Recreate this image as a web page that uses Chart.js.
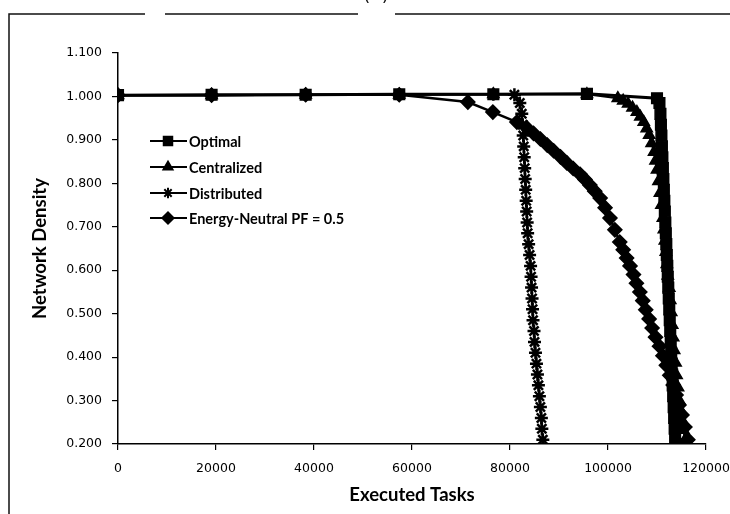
<!DOCTYPE html>
<html>
<head>
<meta charset="utf-8">
<script src="https://cdn.jsdelivr.net/npm/chart.js@4.4.1/dist/chart.umd.min.js"></script>
<style>
  html, body { margin: 0; padding: 0; background: #fff; }
  #wrap { position: relative; width: 730px; height: 514px; }
</style>
</head>
<body>
<div id="wrap"><canvas id="chart" width="730" height="514"></canvas></div>
<script>
const seriesNames = ['Optimal', 'Centralized', 'Distributed', 'Energy-Neutral PF = 0.5'];
const xTicks = [0, 20000, 40000, 60000, 80000, 100000, 120000];
const yTicks = [0.2, 0.3, 0.4, 0.5, 0.6, 0.7, 0.8, 0.9, 1.0, 1.1];

const optimalTasks = [0, 19100, 38300, 57400, 76600, 95700, 110000, 110500,
  110700, 110800, 110900, 111000, 111100, 111200, 111300, 111400, 111500, 111600,
  111700, 111800, 111900, 112000, 112100, 112200, 112300, 112400, 112500, 112600,
  112700, 112800, 112900, 113000, 113100, 113200, 113300, 113400, 113500, 113600, 113700];
const optimalDensity = [1.003, 1.004, 1.004, 1.005, 1.005, 1.006, 0.996, 0.985,
  0.960, 0.935, 0.910, 0.885, 0.860, 0.835, 0.810, 0.785, 0.760, 0.735,
  0.710, 0.685, 0.660, 0.635, 0.610, 0.585, 0.560, 0.535, 0.510, 0.485,
  0.460, 0.435, 0.410, 0.385, 0.360, 0.335, 0.310, 0.285, 0.260, 0.235, 0.210];

const centralTasks = [0, 19100, 38300, 57400, 76600, 95700,
  102000, 103100, 104100, 105000, 105900, 106600, 107300, 107900, 108400, 108900,
  109400, 109700, 110000, 110300, 110600, 110900, 111200, 111400, 111600, 111800,
  112000, 112200, 112500, 112700, 112900, 113100, 113300, 113500, 113800, 114000,
  114300, 114500, 114800, 115100, 115400, 115700];
const centralDensity = [1.003, 1.003, 1.004, 1.004, 1.005, 1.005,
  0.996, 0.990, 0.983, 0.974, 0.964, 0.953, 0.941, 0.926, 0.911, 0.892,
  0.872, 0.852, 0.831, 0.805, 0.778, 0.750, 0.720, 0.694, 0.668, 0.642,
  0.614, 0.587, 0.559, 0.531, 0.503, 0.474, 0.445, 0.416, 0.387, 0.358,
  0.330, 0.301, 0.278, 0.255, 0.232, 0.209];

const distribTasks = [0, 19100, 38300, 57400, 76600, 80900, 82000,
  82400, 82600, 82700, 82800, 82900, 83000, 83100, 83200, 83300, 83400, 83500,
  83600, 83800, 84000, 84200, 84300, 84400, 84500, 84600, 84700, 84900, 85000,
  85200, 85400, 85600, 85800, 86000, 86200, 86400, 86500, 86700];
const distribDensity = [1.003, 1.003, 1.004, 1.004, 1.005, 1.004, 0.985,
  0.960, 0.935, 0.910, 0.885, 0.860, 0.835, 0.810, 0.785, 0.760, 0.735, 0.710,
  0.685, 0.660, 0.635, 0.610, 0.585, 0.560, 0.535, 0.510, 0.485, 0.460, 0.435,
  0.410, 0.385, 0.360, 0.335, 0.310, 0.285, 0.260, 0.235, 0.210];

const energyTasks = [0, 19100, 38300, 57400, 71400, 76500, 81400,
  83500, 84800, 86200, 87600, 88900, 90300, 91600, 92900, 94300, 95300,
  96300, 97300, 98400, 99400, 100400, 101400, 102400, 103100, 103800, 104500,
  105200, 105800, 106500, 107100, 107700, 108400, 109000, 109700, 110500, 111200,
  111900, 112600, 113300, 113900, 114500, 115100, 115700, 116300];
const energyDensity = [1.003, 1.003, 1.004, 1.004, 0.987, 0.964, 0.941,
  0.927, 0.915, 0.902, 0.888, 0.875, 0.861, 0.847, 0.834, 0.821, 0.809,
  0.796, 0.782, 0.766, 0.744, 0.720, 0.693, 0.665, 0.647, 0.628, 0.610,
  0.590, 0.570, 0.550, 0.530, 0.509, 0.488, 0.467, 0.446, 0.425, 0.403,
  0.381, 0.358, 0.336, 0.313, 0.290, 0.267, 0.239, 0.210];

const toPoints = (xs, ys) => xs.map((x, i) => ({ x: x, y: ys[i] }));

const styles = [
  { pointStyle: 'rect', pointRadius: 7.5, borderWidth: 3, pointBorderWidth: 1.5 },
  { pointStyle: 'triangle', pointRadius: 6.5, borderWidth: 2, pointBorderWidth: 1.5 },
  { pointStyle: 'star', pointRadius: 6.5, borderWidth: 2, pointBorderWidth: 2.5 },
  { pointStyle: 'rectRot', pointRadius: 7, borderWidth: 2.5, pointBorderWidth: 1.5 },
];

const pointSets = [
  toPoints(optimalTasks, optimalDensity),
  toPoints(centralTasks, centralDensity),
  toPoints(distribTasks, distribDensity),
  toPoints(energyTasks, energyDensity),
];

const datasets = seriesNames.map((name, i) => ({
  label: name,
  data: pointSets[i],
  borderColor: '#000',
  backgroundColor: '#000',
  pointBackgroundColor: '#000',
  pointBorderColor: '#000',
  pointBorderWidth: styles[i].pointBorderWidth,
  borderWidth: styles[i].borderWidth,
  pointStyle: styles[i].pointStyle,
  pointRadius: styles[i].pointRadius,
  tension: 0,
  showLine: true,
}));

// frame of the figure panel and the cut-off "(a)" caption
const framePlugin = {
  id: 'frame',
  beforeDraw(chart) {
    const ctx = chart.ctx;
    ctx.save();
    ctx.fillStyle = '#fff';
    ctx.fillRect(0, 0, chart.width, chart.height);
    ctx.strokeStyle = '#111';
    ctx.lineWidth = 1.5;
    ctx.beginPath();
    ctx.moveTo(9, 514);
    ctx.lineTo(9, 14);
    ctx.lineTo(145, 14);
    ctx.moveTo(165, 14);
    ctx.lineTo(358, 14);
    ctx.moveTo(395, 14);
    ctx.lineTo(730, 14);
    ctx.stroke();
    ctx.fillStyle = '#111';
    ctx.font = '18px "DejaVu Sans"';
    ctx.textAlign = 'center';
    ctx.textBaseline = 'alphabetic';
    ctx.fillText('(  )', 376, 1);
    ctx.restore();
  }
};

// legend drawn inside the plot, upper left
const legendPlugin = {
  id: 'insideLegend',
  afterDatasetsDraw(chart) {
    const ctx = chart.ctx;
    const rowsY = [141, 167, 193, 218];
    ctx.save();
    ctx.font = 'bold 14.5px Lato';
    ctx.textBaseline = 'middle';
    ctx.textAlign = 'left';
    chart.data.datasets.forEach((ds, i) => {
      const y = rowsY[i];
      ctx.strokeStyle = '#000';
      ctx.lineWidth = 2;
      ctx.beginPath();
      ctx.moveTo(150, y);
      ctx.lineTo(187, y);
      ctx.stroke();
      ctx.fillStyle = '#000';
      Chart.helpers.drawPoint(ctx, {
        pointStyle: ds.pointStyle,
        radius: ds.pointRadius * 0.8,
        rotation: 0,
        borderWidth: 1.5,
      }, 168, y);
      ctx.fillStyle = '#000';
      ctx.fillText(ds.label, 189, y + 1);
    });
    ctx.restore();
  }
};

new Chart(document.getElementById('chart'), {
  type: 'scatter',
  data: { datasets: datasets },
  plugins: [framePlugin, legendPlugin],
  options: {
    responsive: false,
    animation: false,
    devicePixelRatio: 1,
    layout: { padding: { top: 53, right: 24, bottom: 8, left: 20 } },
    plugins: { legend: { display: false }, tooltip: { enabled: false } },
    scales: {
      x: {
        type: 'linear',
        min: 0,
        max: 120000,
        afterBuildTicks: (scale) => { scale.ticks = xTicks.map(v => ({ value: v })); },
        afterFit: (scale) => {
          scale.height = 514 - 444 - 8;
          scale.paddingLeft = 0;
          scale.paddingRight = 0;
        },
        ticks: {
          color: '#000',
          font: { family: 'DejaVu Sans', size: 12.5 },
          padding: 11,
          maxRotation: 0,
          callback: (v) => String(v),
        },
        grid: { drawOnChartArea: false, color: '#000', tickLength: 6, lineWidth: 1.2 },
        border: { color: '#000', width: 1.5 },
        title: {
          display: true,
          text: 'Executed Tasks',
          color: '#000',
          font: { family: 'Lato', size: 18.5, weight: 'bold' },
          padding: { top: 0, bottom: 0 },
        },
      },
      y: {
        type: 'linear',
        min: 0.2,
        max: 1.1,
        afterBuildTicks: (scale) => { scale.ticks = yTicks.map(v => ({ value: v })); },
        afterFit: (scale) => {
          scale.width = 118 - 20;
          scale.paddingTop = 0;
          scale.paddingBottom = 0;
        },
        ticks: {
          color: '#000',
          font: { family: 'DejaVu Sans', size: 12.5 },
          padding: 10,
          callback: (v) => Number(v).toFixed(3),
        },
        grid: { drawOnChartArea: false, color: '#000', tickLength: 6, lineWidth: 1.2 },
        border: { color: '#000', width: 1.5 },
        title: {
          display: true,
          text: 'Network Density',
          color: '#000',
          font: { family: 'Lato', size: 18.5, weight: 'bold' },
          padding: { top: 9, bottom: 0 },
        },
      },
    },
  },
});
</script>
</body>
</html>
